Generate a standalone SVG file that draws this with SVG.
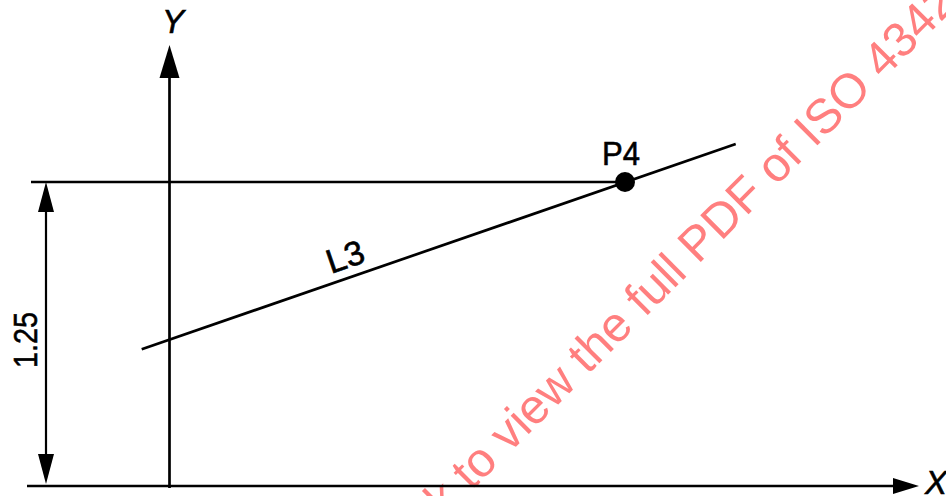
<svg xmlns="http://www.w3.org/2000/svg" width="946" height="496" viewBox="0 0 946 496">
<style>
.ln{stroke:#000;stroke-width:2.7;fill:none;stroke-linecap:butt}
.dim{stroke:#000;stroke-width:2.2;fill:none}
.ah{fill:#000;stroke:none}
.lbl{font-family:"Liberation Sans",Arial,sans-serif;font-size:34px;fill:#000;stroke:#000;stroke-width:0.6}
.it{font-style:italic}
.wm{font-family:"Liberation Sans",Arial,sans-serif;font-size:48.5px;fill:#ff7f7f}
</style>
<rect width="946" height="496" fill="#fff"/>
<g id="watermark">
<text class="wm" transform="translate(387.4,575.4) rotate(-45)">Click to view the full PDF of ISO 4342</text>
</g>
<g id="connectors">
<g id="y-axis">
<line class="ln" x1="169.5" y1="75" x2="169.5" y2="488"/>
<polygon class="ah" points="169.5,45 159.5,78 179.5,78"/>
</g>
<g id="x-axis">
<line class="ln" x1="27" y1="486" x2="895" y2="486"/>
<polygon class="ah" points="919,486 893,478 893,494"/>
</g>
<g id="ref-line">
<line class="ln" x1="31" y1="182" x2="625" y2="182"/>
</g>
<g id="dimension">
<line class="dim" x1="46" y1="200" x2="46" y2="470"/>
<polygon class="ah" points="46,182 38,212 54,212"/>
<polygon class="ah" points="46,484 38,454 54,454"/>
</g>
<g id="L3">
<line class="ln" x1="141.7" y1="349.3" x2="735.7" y2="144"/>
</g>
</g>
<g id="P4">
<circle cx="625" cy="182" r="10" fill="#000"/>
<text class="lbl" x="602" y="165" textLength="38" lengthAdjust="spacingAndGlyphs">P4</text>
</g>
<g id="label-L3">
<text class="lbl" transform="translate(331,274) rotate(-19)" textLength="38" lengthAdjust="spacingAndGlyphs">L3</text>
</g>
<g id="label-Y">
<text class="lbl it" x="162" y="33" textLength="22" lengthAdjust="spacingAndGlyphs">Y</text>
</g>
<g id="label-X">
<text class="lbl it" x="925" y="494" textLength="22" lengthAdjust="spacingAndGlyphs">X</text>
</g>
<g id="label-dim">
<text class="lbl" transform="translate(37,368) rotate(-90)" textLength="56" lengthAdjust="spacingAndGlyphs">1.25</text>
</g>
</svg>
